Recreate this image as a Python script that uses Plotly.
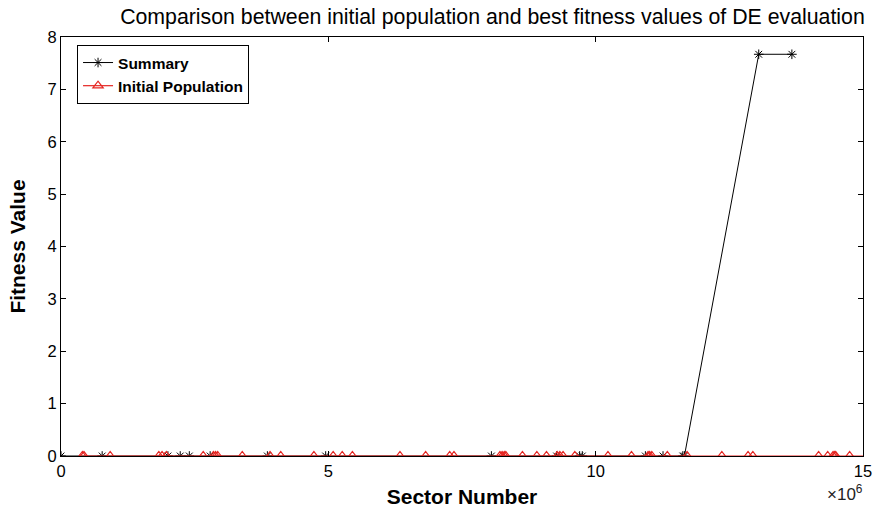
import plotly.graph_objects as go

# Sector numbers (in units of 1e6) and fitness values
summary_sector = [0, 0.77, 2.0, 2.23, 2.40, 2.79, 3.86, 4.95, 8.05, 9.27, 9.70, 9.75,
                  10.93, 11.26, 11.63, 11.66, 13.05, 13.67]
summary_fitness = [0, 0, 0, 0, 0, 0, 0, 0, 0, 0, 0, 0,
                   0, 0, 0, 0, 7.67, 7.67]

initial_sector = [0.40, 0.43, 0.92, 1.83, 1.89, 1.97, 2.66, 2.85, 2.89, 2.93, 3.39, 3.91,
                  4.11, 4.73, 5.09, 5.26, 5.45, 6.34, 6.82, 7.27, 7.35, 8.21, 8.25, 8.29,
                  8.32, 8.63, 8.90, 9.08, 9.28, 9.33, 9.39, 9.61, 10.23, 10.67, 10.98, 11.01,
                  11.05, 11.34, 11.71, 12.36, 12.85, 12.94, 14.17, 14.34, 14.44, 14.47, 14.49,
                  14.75, 15.2]
initial_fitness = [0] * len(initial_sector)

x_ticks = [0, 5, 10, 15]
x_tick_labels = ["0", "5", "10", "15"]
y_ticks = [0, 1, 2, 3, 4, 5, 6, 7, 8]

SCALE = 1e6
font_family = "Liberation Sans, Arial, Helvetica, sans-serif"

fig = go.Figure()
fig.add_trace(go.Scatter(
    x=[v * SCALE for v in summary_sector], y=summary_fitness,
    mode="lines+markers", name="<b>Summary</b>",
    line=dict(color="black", width=1),
    marker=dict(symbol="asterisk-open", size=8, color="black", line=dict(color="black", width=1)),
))
fig.add_trace(go.Scatter(
    x=[v * SCALE for v in initial_sector], y=initial_fitness,
    mode="lines+markers", name="<b>Initial Population</b>",
    line=dict(color="#e52521", width=1.2),
    marker=dict(symbol="triangle-up-open", size=9, color="#e52521", line=dict(color="#e52521", width=1.2)),
))

fig.update_layout(
    width=875, height=513,
    margin=dict(l=61, r=12, t=37, b=57, autoexpand=False),
    paper_bgcolor="white", plot_bgcolor="white",
    font=dict(family=font_family, color="black", size=16.5),
    title=dict(text="Comparison between initial population and best fitness values of DE evaluation",
               x=0.538, xanchor="center", xref="paper", y=1 - 17 / 513, yanchor="middle",
               font=dict(size=21.3, color="black")),
    showlegend=True,
    legend=dict(x=0.02, y=0.981, xanchor="left", yanchor="top",
                bordercolor="black", borderwidth=1, bgcolor="white",
                font=dict(size=15.5, color="black"), tracegroupgap=0),
    xaxis=dict(range=[0, 15 * SCALE], tickvals=[t * SCALE for t in x_ticks], ticktext=x_tick_labels,
               ticks="inside", ticklen=5, tickcolor="black", showline=True, linecolor="black",
               linewidth=1, mirror="ticks", showgrid=False, zeroline=False,
               title=dict(text="<b>Sector Number</b>", font=dict(size=21), standoff=10)),
    yaxis=dict(range=[0, 8], tickvals=y_ticks, ticks="inside", ticklen=5, tickcolor="black",
               showline=True, linecolor="black", linewidth=1, mirror="ticks",
               showgrid=False, zeroline=False,
               title=dict(text="<b>Fitness Value</b>", font=dict(size=21), standoff=16)),
)

fig.add_annotation(text="×10<sup>6</sup>", xref="paper", yref="paper",
                   x=1.002, y=-0.088, xanchor="right", yanchor="middle",
                   showarrow=False, font=dict(size=17, color="#222222"))

fig.write_html("out.html")
